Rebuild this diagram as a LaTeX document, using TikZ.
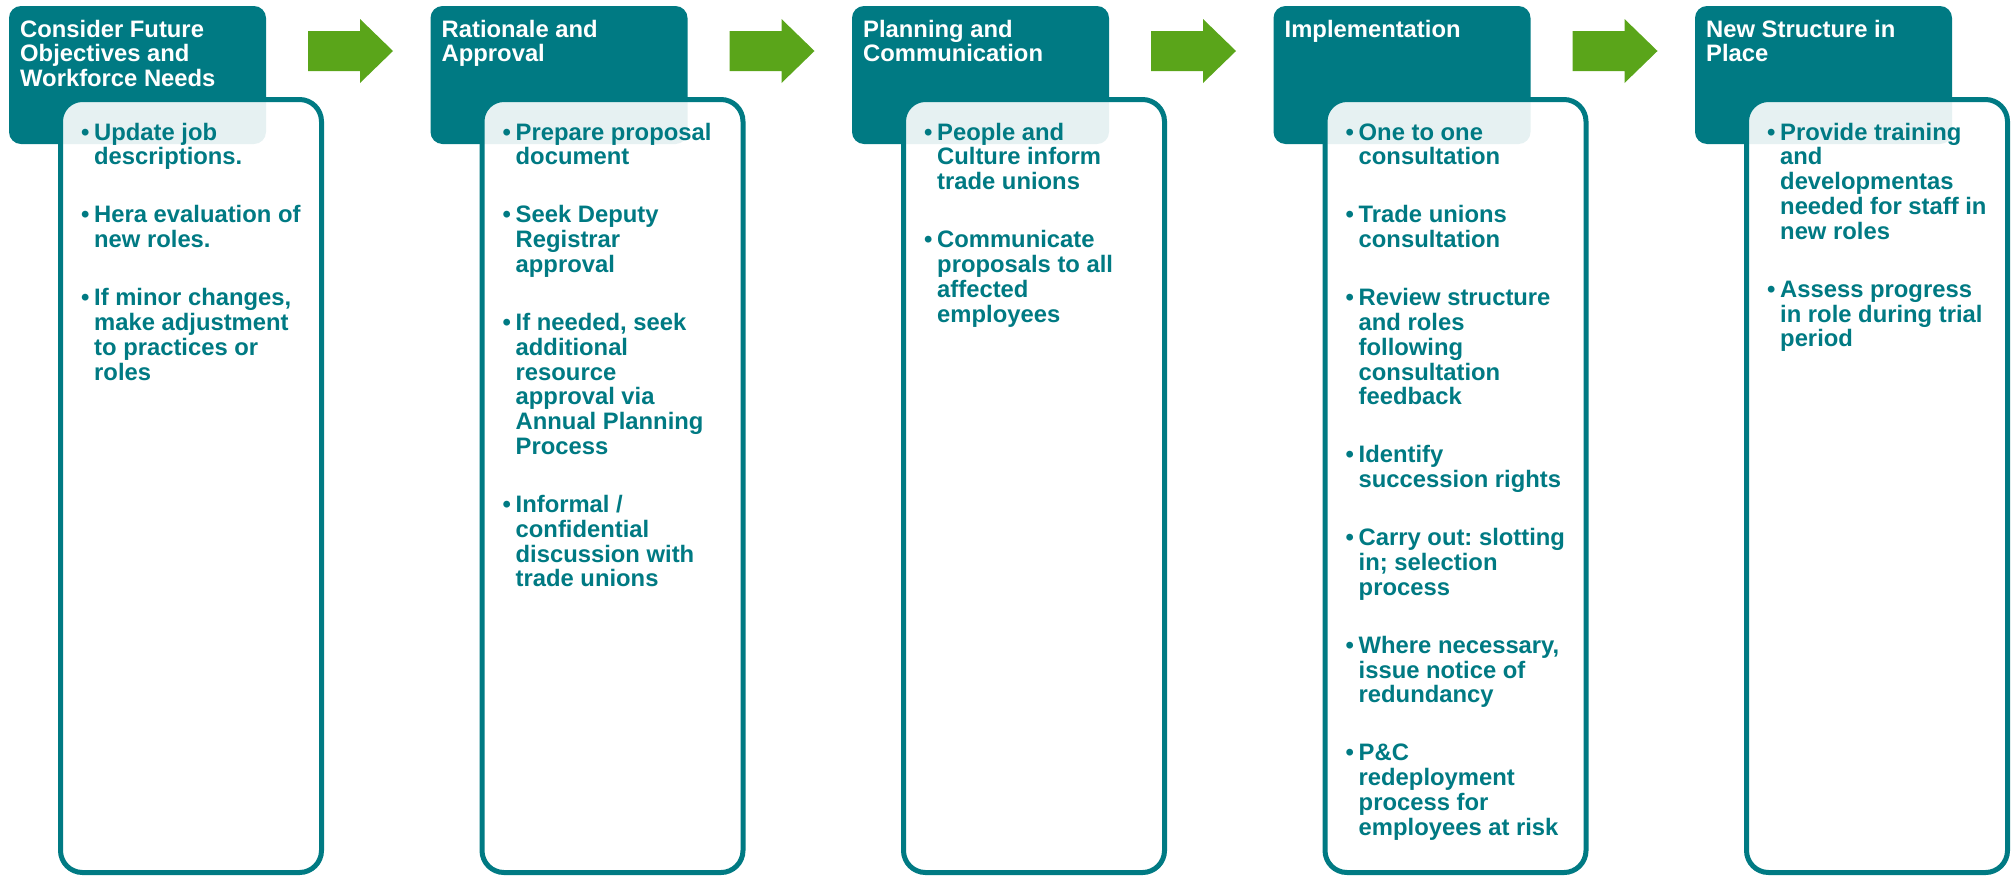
\documentclass[tikz,border=0pt]{standalone}
\usepackage{fontspec}
\setmainfont{Liberation Sans}
\frenchspacing
\definecolor{stageteal}{RGB}{0,122,131}
\definecolor{stepgreen}{RGB}{90,165,26}
\newcommand{\itemdot}{\makebox[13pt][l]{\textbullet}}
\tikzset{
  stagehead/.style={fill=stageteal, rounded corners=12pt, inner sep=0pt, outer sep=0pt,
    anchor=north west, minimum width=257pt, minimum height=138pt},
  stagebody/.style={draw=stageteal, line width=5pt, fill=white, fill opacity=0.9,
    rounded corners=22pt, inner sep=0pt, outer sep=0pt, anchor=north west,
    minimum width=261pt, minimum height=773pt},
  headtext/.style={anchor=base west, inner sep=0pt, text=white,
    font=\fontsize{23.8}{24.8}\selectfont\bfseries},
  bodytext/.style={anchor=base west, inner sep=0pt, text=stageteal,
    font=\fontsize{23.8}{24.8}\selectfont\bfseries},
  steparrow/.style={fill=stepgreen}
}
\begin{document}
\begin{tikzpicture}[x=1pt,y=-1pt]
\useasboundingbox (0,0) rectangle (2013,876);

% block arrows between the stages
\foreach \i in {0,1,2,3}{
  \pgfmathsetmacro{\xo}{9+421.5*\i}
  \fill[steparrow] (\xo+299,31) -- (\xo+351,31) -- (\xo+351,19) -- (\xo+384,51)
    -- (\xo+351,83) -- (\xo+351,71) -- (\xo+299,71) -- cycle;
}

% stage 1
\node[stagehead] (h1) at (9,6) {};
\node[headtext] (t1) at (20,37) {\begin{tabular}[t]{@{}l@{}}Consider Future\\Objectives and\\Workforce Needs\end{tabular}};
\node[stagebody] (b1) at (60.5,99.5) {};
\node[bodytext] (l1) at (81,140) {\begin{tabular}[t]{@{}l@{}l@{}}
\itemdot & Update job\\ & descriptions.\\[33.2pt]
\itemdot & Hera evaluation of\\ & new roles.\\[33.2pt]
\itemdot & If minor changes,\\ & make adjustment\\ & to practices or\\ & roles
\end{tabular}};

% stage 2
\node[stagehead] (h2) at (430.5,6) {};
\node[headtext] (t2) at (441.5,37) {\begin{tabular}[t]{@{}l@{}}Rationale and\\Approval\end{tabular}};
\node[stagebody] (b2) at (482,99.5) {};
\node[bodytext] (l2) at (502.5,140) {\begin{tabular}[t]{@{}l@{}l@{}}
\itemdot & Prepare proposal\\ & document\\[33.2pt]
\itemdot & Seek Deputy\\ & Registrar\\ & approval\\[33.2pt]
\itemdot & If needed, seek\\ & additional\\ & resource\\ & approval via\\ & Annual Planning\\ & Process\\[33.2pt]
\itemdot & Informal /\\ & confidential\\ & discussion with\\ & trade unions
\end{tabular}};

% stage 3
\node[stagehead] (h3) at (852,6) {};
\node[headtext] (t3) at (863,37) {\begin{tabular}[t]{@{}l@{}}Planning and\\Communication\end{tabular}};
\node[stagebody] (b3) at (903.5,99.5) {};
\node[bodytext] (l3) at (924,140) {\begin{tabular}[t]{@{}l@{}l@{}}
\itemdot & People and\\ & Culture inform\\ & trade unions\\[33.2pt]
\itemdot & Communicate\\ & proposals to all\\ & affected\\ & employees
\end{tabular}};

% stage 4
\node[stagehead] (h4) at (1273.5,6) {};
\node[headtext] (t4) at (1284.5,37) {\begin{tabular}[t]{@{}l@{}}Implementation\end{tabular}};
\node[stagebody] (b4) at (1325,99.5) {};
\node[bodytext] (l4) at (1345.5,140) {\begin{tabular}[t]{@{}l@{}l@{}}
\itemdot & One to one\\ & consultation\\[33.2pt]
\itemdot & Trade unions\\ & consultation\\[33.2pt]
\itemdot & Review structure\\ & and roles\\ & following\\ & consultation\\ & feedback\\[33.2pt]
\itemdot & Identify\\ & succession rights\\[33.2pt]
\itemdot & Carry out: slotting\\ & in; selection\\ & process\\[33.2pt]
\itemdot & Where necessary,\\ & issue notice of\\ & redundancy\\[33.2pt]
\itemdot & P\&C\\ & redeployment\\ & process for\\ & employees at risk
\end{tabular}};

% stage 5
\node[stagehead] (h5) at (1695,6) {};
\node[headtext] (t5) at (1706,37) {\begin{tabular}[t]{@{}l@{}}New Structure in\\Place\end{tabular}};
\node[stagebody] (b5) at (1746.5,99.5) {};
\node[bodytext] (l5) at (1767,140) {\begin{tabular}[t]{@{}l@{}l@{}}
\itemdot & Provide training\\ & and\\ & developmentas\\ & needed for staff in\\ & new roles\\[33.2pt]
\itemdot & Assess progress\\ & in role during trial\\ & period
\end{tabular}};
\end{tikzpicture}
\end{document}
